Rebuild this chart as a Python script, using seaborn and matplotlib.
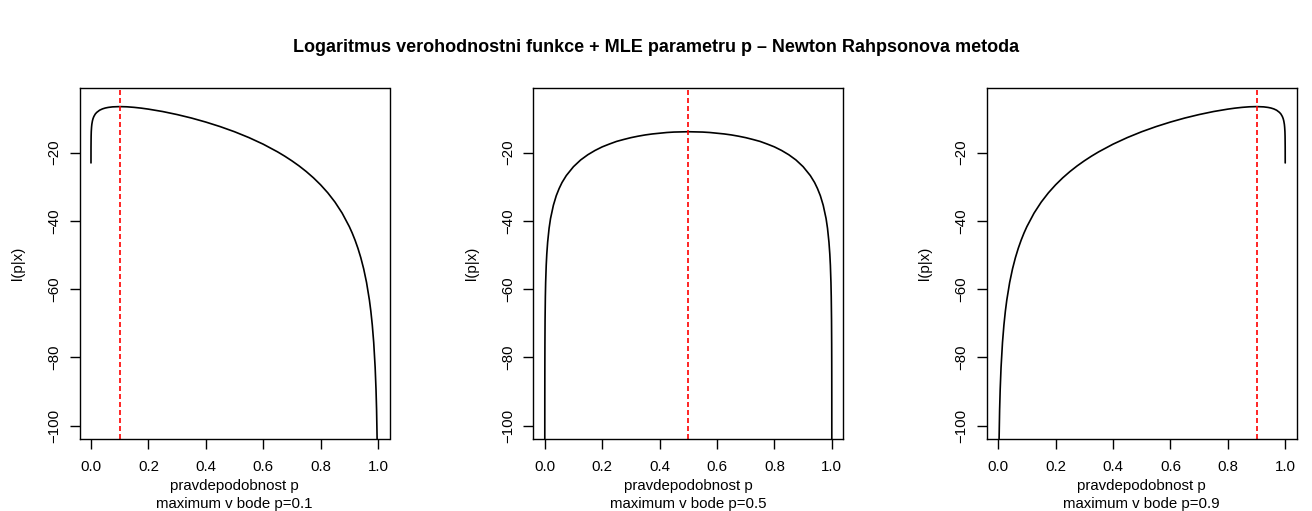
import matplotlib
matplotlib.use("Agg")
import matplotlib.pyplot as plt
import seaborn as sns

# log-likelihood curves
p1 = [0.00001, 0.0001, 0.0005, 0.001, 0.002, 0.003, 0.005, 0.007, 0.01, 0.015,
      0.02, 0.03, 0.04, 0.05, 0.06, 0.075, 0.1, 0.125, 0.15, 0.175,
      0.2, 0.25, 0.3, 0.35, 0.4, 0.45, 0.5, 0.55, 0.6, 0.65,
      0.675, 0.7, 0.725, 0.75, 0.775, 0.8, 0.825, 0.85, 0.875, 0.9,
      0.91, 0.92, 0.93, 0.94, 0.95, 0.96, 0.97, 0.975, 0.98, 0.985,
      0.99, 0.993, 0.995, 0.997]
l1 = [-23.0, -18.4, -15.2, -13.8, -12.5, -11.67, -10.7, -10.05, -9.4, -8.67,
      -8.2, -7.56, -7.17, -6.91, -6.74, -6.58, -6.50, -6.56, -6.72, -6.95,
      -7.24, -7.95, -8.83, -9.85, -11.03, -12.36, -13.86, -15.57, -17.51, -19.76,
      -21.02, -22.39, -23.88, -25.53, -27.36, -29.42, -31.76, -34.47, -37.70, -41.66,
      -43.53, -45.63, -48.01, -50.76, -54.02, -58.02, -63.18, -66.45, -70.46, -75.62,
      -82.91, -89.33, -95.38, -104.6]

p2 = [0.00002, 0.0001, 0.0002, 0.0003, 0.0005, 0.001, 0.002, 0.003, 0.005, 0.007,
      0.01, 0.015, 0.02, 0.03, 0.04, 0.05, 0.06, 0.075, 0.1, 0.125,
      0.15, 0.175, 0.2, 0.225, 0.25, 0.275, 0.3, 0.325, 0.35, 0.375,
      0.4, 0.425, 0.45, 0.5, 0.55, 0.575, 0.6, 0.625, 0.65, 0.675,
      0.7, 0.725, 0.75, 0.775, 0.8, 0.825, 0.85, 0.875, 0.9, 0.925,
      0.94, 0.95, 0.96, 0.97, 0.98, 0.985, 0.99, 0.993, 0.995, 0.997,
      0.998, 0.999, 0.9995, 0.9997, 0.9998, 0.9999, 0.99998]
l2 = [-108.2, -92.1, -85.2, -81.1, -76.0, -69.1, -62.2, -58.1, -53.0, -49.7,
      -46.2, -42.15, -39.3, -35.4, -32.6, -30.5, -28.75, -26.7, -24.1, -22.13,
      -20.6, -19.35, -18.3, -17.47, -16.7, -16.13, -15.6, -15.17, -14.8, -14.51,
      -14.3, -14.09, -13.96, -13.86, -13.96, -14.09, -14.3, -14.51, -14.8, -15.17,
      -15.6, -16.13, -16.7, -17.47, -18.3, -19.35, -20.6, -22.13, -24.1, -26.7,
      -28.75, -30.5, -32.6, -35.4, -39.3, -42.15, -46.2, -49.7, -53.0, -58.1,
      -62.2, -69.1, -76.0, -81.1, -85.2, -92.1, -108.2]

p3 = [0.003, 0.005, 0.007, 0.01, 0.015, 0.02, 0.025, 0.03, 0.04, 0.05,
      0.06, 0.07, 0.08, 0.09, 0.1, 0.125, 0.15, 0.175, 0.2, 0.225,
      0.25, 0.275, 0.3, 0.325, 0.35, 0.4, 0.45, 0.5, 0.55, 0.6,
      0.65, 0.7, 0.75, 0.8, 0.825, 0.85, 0.875, 0.9, 0.925, 0.94,
      0.95, 0.96, 0.97, 0.98, 0.985, 0.99, 0.993, 0.995, 0.997, 0.998,
      0.999, 0.9995, 0.9999, 0.99999]
l3 = [-104.6, -95.38, -89.33, -82.91, -75.62, -70.46, -66.45, -63.18, -58.02, -54.02,
      -50.76, -48.01, -45.63, -43.53, -41.66, -37.70, -34.47, -31.76, -29.42, -27.36,
      -25.53, -23.88, -22.39, -21.02, -19.76, -17.51, -15.57, -13.86, -12.36, -11.03,
      -9.85, -8.83, -7.95, -7.24, -6.95, -6.72, -6.56, -6.50, -6.58, -6.74,
      -6.91, -7.17, -7.56, -8.2, -8.67, -9.4, -10.05, -10.7, -11.67, -12.5,
      -13.8, -15.2, -18.4, -23.0]

mle = [0.1, 0.5, 0.9]
x_ticks = [0.0, 0.2, 0.4, 0.6, 0.8, 1.0]
y_ticks = [-100, -80, -60, -40, -20]

sns.set_style("ticks")
plt.rcParams['font.family'] = ['Liberation Sans', 'DejaVu Sans']
plt.rcParams['text.color'] = 'black'
plt.rcParams['axes.labelcolor'] = 'black'
plt.rcParams['xtick.color'] = 'black'
plt.rcParams['ytick.color'] = 'black'

fs = 10.8
fig = plt.figure(figsize=(13.12, 5.11), dpi=100)
fig.text(0.5, 1 - 47 / 511, "Logaritmus verohodnostni funkce + MLE parametru p \u2013 Newton Rahpsonova metoda",
         ha='center', va='center', fontsize=13, fontweight='bold')

lefts = [79.5, 533.3, 986.7]
curves = [(p1, l1), (p2, l2), (p3, l3)]
for left, (px, ly), m in zip(lefts, curves, mle):
    ax = fig.add_axes([left / 1312, (511 - 438.7) / 511, 310 / 1312, (438.7 - 88) / 511])
    sns.lineplot(x=px, y=ly, ax=ax, color='black', lw=1.2, sort=False, estimator=None)
    ax.axvline(m, color='red', ls=(0, (3, 1.8)), lw=1.2)
    ax.set_xlim(-0.04, 1.04)
    ax.set_ylim(-103.8, -1.05)
    ax.set_xticks(x_ticks)
    ax.set_xticklabels([f"{v:.1f}" for v in x_ticks])
    ax.set_yticks(y_ticks)
    ax.set_yticklabels([f"\u2212{abs(v)}" for v in y_ticks], rotation=90, va='center')
    ax.tick_params(axis='both', length=7, width=1, labelsize=fs, direction='out')
    ax.tick_params(axis='x', pad=8)
    ax.tick_params(axis='y', pad=6)
    for s in ax.spines.values():
        s.set_color('black')
        s.set_linewidth(1)
    ax.set_xlabel(f"pravdepodobnost p\nmaximum v bode p={m}", fontsize=fs, labelpad=4, linespacing=1.38)
    ax.set_ylabel("l(p|x)", fontsize=fs, labelpad=16)

fig.savefig("out.png", dpi=100)
